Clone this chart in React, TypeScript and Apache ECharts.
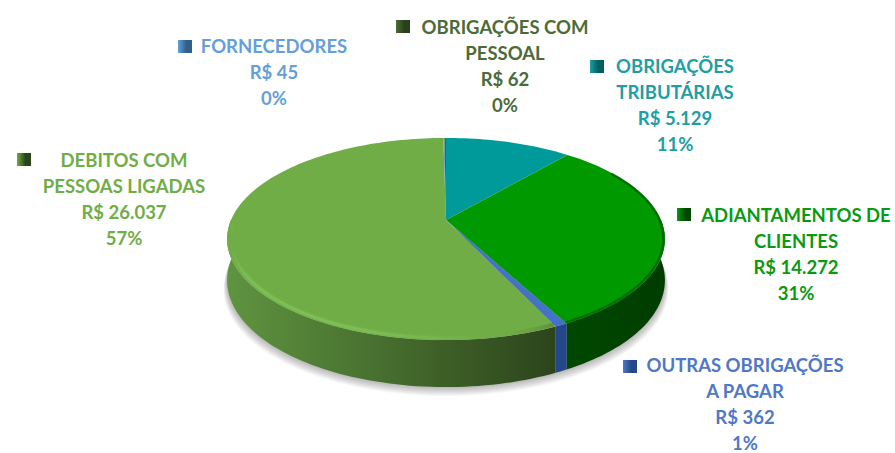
import React, { useEffect, useRef } from "react";
import * as echarts from "echarts";

const categories = [
  ["OBRIGAÇÕES", "TRIBUTÁRIAS"],
  ["ADIANTAMENTOS DE", "CLIENTES"],
  ["OUTRAS OBRIGAÇÕES", "A PAGAR"],
  ["DEBITOS COM", "PESSOAS LIGADAS"],
  ["FORNECEDORES"],
  ["OBRIGAÇÕES COM", "PESSOAL"],
];
const values = [5129, 14272, 362, 26037, 45, 62];

const topColors = ["#009a9a", "#009900", "#4472c4", "#70ad47", "#5b9bd5", "#43682b"];
const textColors = ["#1f9ea4", "#0a9a12", "#4f78c6", "#70ad47", "#659fd9", "#4b6b38"];
const wallStops = [
  ["#006060", "#006060"],
  ["#003c00", "#004800"],
  ["#24478a", "#24478a"],
  ["#5f9440", "#2c441b"],
  ["#2f5f8a", "#2f5f8a"],
  ["#2a401a", "#2a401a"],
];
// [text centre x, first line y, key x, key y]
const labelPlaces = [
  [675, 66, 590, 60],
  [796, 215, 677, 208],
  [745, 365, 623, 360],
  [124, 160, 17, 153],
  [274, 46, 178, 40],
  [505, 27, 396, 20],
];

const APEX_X = 446;
const APEX_Y = 220;
const A = 215;
const B = 97.5;
const K = 0.188;
const total = values.reduce((s, v) => s + v, 0);

const rim = (deg: number, f = 1) => {
  const t = (deg * Math.PI) / 180;
  const u = Math.sin(t) * f;
  const v = Math.cos(t) * f;
  const w = 1 + K * v;
  return [APEX_X + (A * u) / w, APEX_Y - (B * v) / w, v];
};
const low = (deg: number) => {
  const [x, y, v] = rim(deg);
  return [x, y + 40 - 7 * Math.min(v, 0)];
};
const range = (a: number, b: number, fn: (d: number) => number[]) => {
  const n = Math.max(2, Math.ceil(Math.abs(b - a) / 1.5));
  const out: number[][] = [];
  for (let i = 0; i <= n; i++) out.push(fn(a + ((b - a) * i) / n).slice(0, 2));
  return out;
};
const bounds: number[][] = [];
{
  let acc = 0;
  values.forEach((v) => {
    bounds.push([(acc / total) * 360, ((acc + v) / total) * 360]);
    acc += v;
  });
}

const renderWall = (params: any) => {
  const i = params.dataIndex;
  const children: any[] = [];
  if (i === 0) {
    const outline = range(70, 290, low);
    for (let s = 1; s <= 9; s++) {
      children.push({
        type: "polygon",
        silent: true,
        shape: {
          points: outline.map(([x, y]) => [
            APEX_X + (x - APEX_X) * (1 + (10 - s) * 0.0018),
            y + (10 - s) * 1.0,
          ]),
        },
        style: { fill: "rgba(0,0,0,0.03)" },
      });
    }
  }
  const a = Math.max(bounds[i][0], 90);
  const b = Math.min(bounds[i][1], 270);
  if (b > a) {
    children.push({
      type: "polygon",
      silent: true,
      shape: { points: [...range(a, b, rim), ...range(b, a, low)] },
      style: {
        fill: new echarts.graphic.LinearGradient(
          i === 1 ? 1 : 0, 0, i === 1 ? 0 : 1, 0,
          [
            { offset: 0, color: wallStops[i][0] },
            { offset: 1, color: wallStops[i][1] },
          ],
        ),
      },
    });
  }
  return { type: "group", children };
};

const renderTop = (params: any) => {
  const i = params.dataIndex;
  const [a, b] = bounds[i];
  return {
    type: "polygon",
    silent: true,
    shape: { points: [[APEX_X, APEX_Y], ...range(a, b, rim)] },
    style: { fill: topColors[i] },
  };
};

const renderBevel = (params: any) => {
  const i = params.dataIndex;
  const children: any[] = [];
  if (i === 3) {
    // soft lit edge along the lower left of the largest slice
    [5, 3, 1.5].forEach((w, n) => {
      children.push({
        type: "polyline",
        silent: true,
        shape: { points: range(172, 268, (d) => rim(d, 0.985)) },
        style: {
          fill: "none",
          lineWidth: w,
          stroke: new echarts.graphic.LinearGradient(1, 0, 0, 0, [
            { offset: 0, color: "rgba(128,196,88,0)" },
            { offset: 0.5, color: `rgba(128,196,88,${0.3 + n * 0.15})` },
            { offset: 0.92, color: `rgba(128,196,88,${0.3 + n * 0.15})` },
            { offset: 1, color: "rgba(128,196,88,0)" },
          ]),
        },
      });
    });
    // shaded edge towards the thin slice
    children.push({
      type: "polyline",
      silent: true,
      shape: { points: range(bounds[i][0], 172, (d) => rim(d, 0.985)) },
      style: {
        fill: "none",
        lineWidth: 4,
        stroke: new echarts.graphic.LinearGradient(0, 0, 1, 0, [
          { offset: 0, color: "rgba(128,196,88,0)" },
          { offset: 1, color: "rgba(60,90,40,0.35)" },
        ]),
      },
    });
  }
  if (i === 1) {
    const [a, b] = bounds[i];
    children.push({
      type: "polyline",
      silent: true,
      shape: { points: range(a + 18, b, (d) => rim(d, 0.993)) },
      style: { fill: "none", lineWidth: 2.5, stroke: "rgba(0,70,0,0.5)" },
    });
  }
  return { type: "group", children };
};

const labelGraphics = () => {
  const out: any[] = [];
  categories.forEach((lines, i) => {
    const [cx, y0, kx, ky] = labelPlaces[i];
    const texts = [
      ...lines,
      `R$ ${values[i].toLocaleString("pt-BR")}`,
      `${Math.round((values[i] / total) * 100)}%`,
    ];
    out.push({
      type: "rect",
      silent: true,
      shape: { x: kx, y: ky, width: 14, height: 13 },
      style: {
        fill: new echarts.graphic.LinearGradient(0, 0, 1, 0, [
          { offset: 0, color: textColors[i] },
          { offset: 0.6, color: wallStops[i][1] },
          { offset: 1, color: wallStops[i][1] },
        ]),
      },
    });
    texts.forEach((t, j) => {
      out.push({
        type: "text",
        silent: true,
        x: cx,
        y: y0 + j * 26,
        style: {
          text: t,
          fill: textColors[i],
          font: "bold 18.5px Lato, sans-serif",
          textAlign: "center",
          textVerticalAlign: "middle",
        },
      });
    });
  });
  return out;
};

export default function App() {
  const ref = useRef<HTMLDivElement>(null);
  useEffect(() => {
    const chart = echarts.init(ref.current!, null, { renderer: "svg" });
    const data = values.map((v, i) => ({ value: v, name: categories[i].join(" ") }));
    chart.setOption({
      animation: false,
      backgroundColor: "#ffffff",
      graphic: { elements: labelGraphics() },
      series: [
        { type: "custom", coordinateSystem: "none", renderItem: renderWall, data, z: 1, silent: true },
        { type: "custom", coordinateSystem: "none", renderItem: renderTop, data, z: 2, silent: true },
        { type: "custom", coordinateSystem: "none", renderItem: renderBevel, data, z: 3, silent: true },
      ],
    });
    return () => chart.dispose();
  }, []);
  return <div ref={ref} style={{ position: "absolute", left: 0, top: 0, width: 895, height: 453 }} />;
}
